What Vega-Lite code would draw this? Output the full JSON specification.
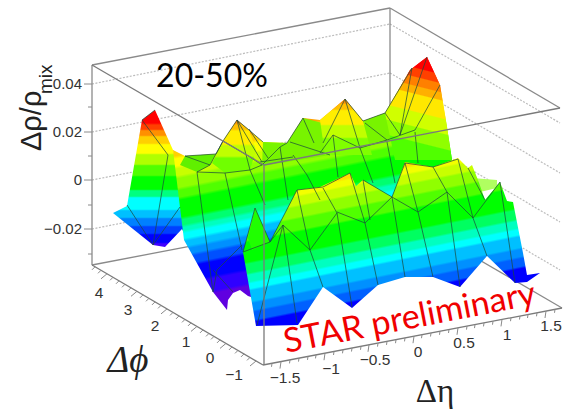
{
"$schema":"https://vega.github.io/schema/vega-lite/v6.json",
"width":569,"height":411,"padding":0,"autosize":"none","background":"white",
"view":{"stroke":null},
"datasets":{
"grid":[
{"x":92,"y":84,"x2":390,"y2":24},{"x":92,"y":132,"x2":390,"y2":73},{"x":92,"y":180,"x2":390,"y2":122},{"x":92,"y":229,"x2":390,"y2":170},
{"x":390,"y":24,"x2":560,"y2":123},{"x":390,"y":73,"x2":560,"y2":173},{"x":390,"y":122,"x2":560,"y2":222},{"x":390,"y":170,"x2":560,"y2":270}],
"boxBack":[
{"x":92,"y":65,"x2":390,"y2":8},{"x":390,"y":8,"x2":560,"y2":108},{"x":390,"y":8,"x2":390,"y2":160},{"x":92,"y":65,"x2":92,"y2":265},
{"x":92,"y":265,"x2":390,"y2":208},{"x":390,"y":208,"x2":562,"y2":308}],
"boxFront":[
{"x":92,"y":265,"x2":263,"y2":365},{"x":263,"y":365,"x2":562,"y2":308},{"x":264,"y":365,"x2":264,"y2":165},{"x":92,"y":65,"x2":264,"y2":165},{"x":264,"y":165,"x2":560,"y2":108}],
"l1":[{"x":113,"y":213},{"x":127,"y":206},{"x":142,"y":120},{"x":155,"y":110},{"x":173,"y":150},{"x":190,"y":200},{"x":185,"y":235},{"x":182,"y":229},{"x":165,"y":247},{"x":153,"y":245}],
"back":[{"x":173,"y":150},{"x":185,"y":156},{"x":216,"y":154},{"x":223,"y":141},{"x":237,"y":120},{"x":249,"y":130},{"x":263,"y":142},{"x":287,"y":143},{"x":303,"y":118},{"x":320,"y":120},{"x":345,"y":99},{"x":363,"y":121},{"x":385,"y":113},{"x":410,"y":70},{"x":427,"y":57},{"x":440,"y":85},{"x":447,"y":127},{"x":452,"y":160},{"x":455,"y":200},{"x":300,"y":260},{"x":260,"y":300},{"x":248,"y":296},{"x":240,"y":290},{"x":233,"y":293},{"x":228,"y":300},{"x":227,"y":310},{"x":213,"y":292},{"x":184,"y":240}],
"top1":[{"x":185,"y":156},{"x":216,"y":154},{"x":223,"y":141},{"x":210,"y":165},{"x":197,"y":172},{"x":180,"y":165}],
"top2":[{"x":263,"y":142},{"x":287,"y":143},{"x":303,"y":118},{"x":330,"y":125},{"x":345,"y":135},{"x":330,"y":155},{"x":262,"y":166}],
"top3":[{"x":363,"y":121},{"x":385,"y":113},{"x":400,"y":135},{"x":387,"y":142},{"x":360,"y":148}],
"peak1":[{"x":223,"y":141},{"x":237,"y":120},{"x":249,"y":130},{"x":256,"y":150},{"x":250,"y":170},{"x":225,"y":173},{"x":212,"y":163}],
"peak3":[{"x":320,"y":120},{"x":345,"y":99},{"x":363,"y":121},{"x":372,"y":155},{"x":345,"y":155},{"x":325,"y":155}],
"peakR":[{"x":385,"y":113},{"x":410,"y":70},{"x":427,"y":57},{"x":440,"y":85},{"x":447,"y":127},{"x":452,"y":160},{"x":395,"y":160}],
"streak":[{"x":472,"y":178},{"x":497,"y":180},{"x":497,"y":188},{"x":480,"y":192}],
"front":[{"x":243,"y":252},{"x":255,"y":208},{"x":270,"y":242},{"x":297,"y":190},{"x":320,"y":187},{"x":350,"y":173},{"x":356,"y":186},{"x":363,"y":180},{"x":392,"y":197},{"x":405,"y":162},{"x":433,"y":167},{"x":458,"y":158},{"x":468,"y":168},{"x":472,"y":165},{"x":478,"y":180},{"x":485,"y":200},{"x":500,"y":182},{"x":507,"y":201},{"x":513,"y":202},{"x":523,"y":253},{"x":527,"y":275},{"x":540,"y":273},{"x":527,"y":282},{"x":515,"y":283},{"x":487,"y":256},{"x":460,"y":287},{"x":433,"y":277},{"x":405,"y":277},{"x":378,"y":285},{"x":352,"y":308},{"x":323,"y":287},{"x":298,"y":325},{"x":256,"y":326}],
"front0":[{"x":248,"y":238},{"x":255,"y":208},{"x":270,"y":242},{"x":252,"y":250}],
"mesh":[
{"x":142,"y":120,"x2":168,"y2":155},{"x":168,"y":155,"x2":153,"y2":245},{"x":127,"y":205,"x2":153,"y2":245},{"x":153,"y":245,"x2":180,"y2":207},{"x":142,"y":120,"x2":155,"y2":110},
{"x":185,"y":156,"x2":216,"y2":154},{"x":216,"y":154,"x2":223,"y2":141},{"x":223,"y":141,"x2":210,"y2":165},{"x":185,"y":156,"x2":210,"y2":165},{"x":210,"y":165,"x2":197,"y2":172},{"x":197,"y":172,"x2":225,"y2":173},{"x":225,"y":173,"x2":250,"y2":170},{"x":250,"y":170,"x2":262,"y2":165},
{"x":223,"y":141,"x2":237,"y2":120},{"x":237,"y":120,"x2":249,"y2":130},{"x":249,"y":130,"x2":263,"y2":142},{"x":237,"y":120,"x2":250,"y2":170},{"x":237,"y":120,"x2":262,"y2":162},{"x":249,"y":129,"x2":268,"y2":158},{"x":223,"y":141,"x2":250,"y2":157},{"x":250,"y":157,"x2":262,"y2":165},
{"x":262,"y":165,"x2":280,"y2":147},{"x":280,"y":147,"x2":287,"y2":143},{"x":280,"y":147,"x2":288,"y2":200},{"x":287,"y":143,"x2":303,"y2":118},{"x":303,"y":118,"x2":314,"y2":143},{"x":290,"y":142,"x2":330,"y2":155},{"x":293,"y":155,"x2":307,"y2":175},{"x":307,"y":175,"x2":320,"y2":200},{"x":260,"y":162,"x2":293,"y2":157},
{"x":197,"y":172,"x2":213,"y2":292},{"x":225,"y":173,"x2":242,"y2":250},{"x":250,"y":170,"x2":265,"y2":205},{"x":242,"y":245,"x2":217,"y2":270},{"x":217,"y":270,"x2":213,"y2":292},{"x":213,"y":270,"x2":233,"y2":292},
{"x":255,"y":208,"x2":270,"y2":242},{"x":243,"y":252,"x2":255,"y2":208},{"x":243,"y":252,"x2":270,"y2":242},{"x":270,"y":242,"x2":283,"y2":225},{"x":283,"y":225,"x2":310,"y2":250},{"x":283,"y":225,"x2":257,"y2":325},{"x":283,"y":225,"x2":297,"y2":323},{"x":310,"y":250,"x2":323,"y2":287},{"x":297,"y":190,"x2":310,"y2":250},{"x":297,"y":190,"x2":270,"y2":242},{"x":310,"y":250,"x2":337,"y2":213},
{"x":323,"y":188,"x2":337,"y2":213},{"x":337,"y":212,"x2":365,"y2":223},{"x":337,"y":213,"x2":352,"y2":307},{"x":350,"y":173,"x2":365,"y2":223},{"x":365,"y":223,"x2":378,"y2":285},{"x":365,"y":223,"x2":392,"y2":197},{"x":363,"y":180,"x2":392,"y2":197},{"x":363,"y":180,"x2":370,"y2":220},{"x":392,"y":197,"x2":405,"y2":277},{"x":392,"y":197,"x2":418,"y2":212},{"x":405,"y":163,"x2":418,"y2":212},{"x":418,"y":212,"x2":433,"y2":277},{"x":418,"y":212,"x2":447,"y2":192},{"x":433,"y":167,"x2":447,"y2":192},{"x":447,"y":192,"x2":460,"y2":287},{"x":447,"y":192,"x2":473,"y2":218},{"x":458,"y":159,"x2":473,"y2":218},{"x":473,"y":218,"x2":487,"y2":256},{"x":473,"y":218,"x2":500,"y2":182},{"x":500,"y":182,"x2":515,"y2":283},{"x":468,"y":168,"x2":485,"y2":200},{"x":405,"y":163,"x2":433,"y2":167},{"x":433,"y":167,"x2":458,"y2":159},{"x":392,"y":197,"x2":405,"y2":163},{"x":297,"y":190,"x2":323,"y2":187},{"x":323,"y":187,"x2":350,"y2":173},
{"x":345,"y":99,"x2":360,"y2":148},{"x":360,"y":148,"x2":373,"y2":183},{"x":360,"y":148,"x2":333,"y2":135},{"x":333,"y":135,"x2":320,"y2":153},{"x":333,"y":135,"x2":338,"y2":177},{"x":345,"y":99,"x2":323,"y2":143},{"x":360,"y":148,"x2":387,"y2":140},{"x":387,"y":140,"x2":415,"y2":130},{"x":365,"y":123,"x2":387,"y2":140},{"x":385,"y":113,"x2":400,"y2":135},{"x":412,"y":68,"x2":400,"y2":135},{"x":427,"y":57,"x2":400,"y2":135},{"x":440,"y":85,"x2":415,"y2":130},{"x":387,"y":142,"x2":395,"y2":183},{"x":415,"y":132,"x2":418,"y2":163},{"x":345,"y":99,"x2":363,"y2":121},{"x":363,"y":121,"x2":385,"y2":113},{"x":385,"y":113,"x2":412,"y2":68}],
"ticks":[
{"x":92,"y":84,"x2":84,"y2":84},{"x":92,"y":107,"x2":88,"y2":107},{"x":92,"y":132,"x2":84,"y2":132},{"x":92,"y":156,"x2":88,"y2":156},{"x":92,"y":180,"x2":84,"y2":180},{"x":92,"y":205,"x2":88,"y2":205},{"x":92,"y":229,"x2":84,"y2":229},{"x":92,"y":254,"x2":88,"y2":254},
{"x":272,"y":363.3,"x2":271.5,"y2":366.8},{"x":281,"y":361.6,"x2":280,"y2":368.6},{"x":290,"y":359.9,"x2":289.5,"y2":363.4},{"x":299,"y":358.1,"x2":298.5,"y2":361.6},{"x":308,"y":356.4,"x2":307.5,"y2":359.9},{"x":316,"y":354.9,"x2":315.5,"y2":358.4},{"x":325,"y":353.2,"x2":324,"y2":360.2},{"x":334,"y":351.5,"x2":333.5,"y2":355},{"x":343,"y":349.8,"x2":342.5,"y2":353.3},{"x":352,"y":348,"x2":351.5,"y2":351.5},{"x":361,"y":346.3,"x2":360.5,"y2":349.8},{"x":369,"y":344.8,"x2":368,"y2":351.8},{"x":378,"y":343.1,"x2":377.5,"y2":346.6},{"x":387,"y":341.4,"x2":386.5,"y2":344.9},{"x":396,"y":339.7,"x2":395.5,"y2":343.2},{"x":405,"y":337.9,"x2":404.5,"y2":341.4},{"x":414,"y":336.2,"x2":413,"y2":343.2},{"x":422,"y":334.7,"x2":421.5,"y2":338.2},{"x":431,"y":333,"x2":430.5,"y2":336.5},{"x":440,"y":331.3,"x2":439.5,"y2":334.8},{"x":449,"y":329.5,"x2":448.5,"y2":333},{"x":458,"y":327.8,"x2":457,"y2":334.8},{"x":467,"y":326.1,"x2":466.5,"y2":329.6},{"x":475,"y":324.6,"x2":474.5,"y2":328.1},{"x":484,"y":322.9,"x2":483.5,"y2":326.4},{"x":493,"y":321.2,"x2":492.5,"y2":324.7},{"x":502,"y":319.4,"x2":501,"y2":326.4},{"x":511,"y":317.7,"x2":510.5,"y2":321.2},{"x":520,"y":316,"x2":519.5,"y2":319.5},{"x":528,"y":314.5,"x2":527.5,"y2":318},{"x":537,"y":312.8,"x2":536.5,"y2":316.3},{"x":546,"y":311,"x2":545,"y2":318},{"x":555,"y":309.3,"x2":554.5,"y2":312.8},
{"x":256,"y":361,"x2":250,"y2":366},{"x":250,"y":357.4,"x2":247,"y2":360.4},{"x":244,"y":353.9,"x2":241,"y2":356.9},{"x":238,"y":350.4,"x2":235,"y2":353.4},{"x":232,"y":346.9,"x2":229,"y2":349.9},{"x":226,"y":343.4,"x2":220,"y2":348.4},{"x":220,"y":339.9,"x2":217,"y2":342.9},{"x":214,"y":336.4,"x2":211,"y2":339.4},{"x":209,"y":333.4,"x2":206,"y2":336.4},{"x":203,"y":329.9,"x2":200,"y2":332.9},{"x":197,"y":326.4,"x2":191,"y2":331.4},{"x":191,"y":322.9,"x2":188,"y2":325.9},{"x":185,"y":319.4,"x2":182,"y2":322.4},{"x":179,"y":315.9,"x2":176,"y2":318.9},{"x":173,"y":312.4,"x2":170,"y2":315.4},{"x":167,"y":308.9,"x2":161,"y2":313.9},{"x":161,"y":305.4,"x2":158,"y2":308.4},{"x":155,"y":301.9,"x2":152,"y2":304.9},{"x":149,"y":298.3,"x2":146,"y2":301.3},{"x":143,"y":294.8,"x2":140,"y2":297.8},{"x":137,"y":291.3,"x2":131,"y2":296.3},{"x":131,"y":287.8,"x2":128,"y2":290.8},{"x":125,"y":284.3,"x2":122,"y2":287.3},{"x":119,"y":280.8,"x2":116,"y2":283.8},{"x":113,"y":277.3,"x2":110,"y2":280.3},{"x":107,"y":273.8,"x2":101,"y2":278.8},{"x":101,"y":270.3,"x2":98,"y2":273.3},{"x":95,"y":266.8,"x2":92,"y2":269.8}],
"zLabels":[{"x":82,"y":84,"t":"0.04"},{"x":82,"y":132,"t":"0.02"},{"x":82,"y":180,"t":"0"},{"x":82,"y":229,"t":"−0.02"}],
"axisLabels":[{"x":99,"y":293,"t":"4"},{"x":128,"y":310,"t":"3"},{"x":155,"y":326,"t":"2"},{"x":186,"y":342,"t":"1"},{"x":210,"y":358,"t":"0"},{"x":234,"y":375,"t":"−1"},{"x":285,"y":378,"t":"−1.5"},{"x":331,"y":369,"t":"−1"},{"x":375,"y":360,"t":"−0.5"},{"x":418,"y":352,"t":"0"},{"x":464,"y":343,"t":"0.5"},{"x":507,"y":335,"t":"1"},{"x":551,"y":326,"t":"1.5"}],
"title":[{"x":212,"y":87,"t":"20-50%"}],
"star":[{"x":286,"y":353,"t":"STAR preliminary"}],
"zT":[{"x":41,"y":151,"t":"Δρ/ρ"}],
"zS":[{"x":52,"y":94,"t":"mix"}],
"phiT":[{"x":128,"y":372,"t":"Δϕ"}],
"etaT":[{"x":435,"y":402,"t":"Δη"}]
},
"encoding":{
"x":{"field":"x","type":"quantitative","scale":{"domain":[0,569],"nice":false,"zero":false},"axis":null},
"y":{"field":"y","type":"quantitative","scale":{"domain":[411,0],"nice":false,"zero":false},"axis":null}
},
"layer":[
{"data":{"name":"grid"},"mark":{"type":"rule","stroke":"#bcbcbc","strokeWidth":1.2,"strokeDash":[2,1.5]},"encoding":{"x2":{"field":"x2"},"y2":{"field":"y2"}}},
{"data":{"name":"boxBack"},"mark":{"type":"rule","stroke":"#8a8a8a","strokeWidth":1.3},"encoding":{"x2":{"field":"x2"},"y2":{"field":"y2"}}},
{"data":{"name":"l1"},"mark":{"type":"line","order":false,"strokeWidth":0,"fill":{"gradient":"linear","x1":0,"y1":0,"x2":0,"y2":1,"stops":[
{"offset":0,"color":"#ff0000"},{"offset":0.095,"color":"#ff0000"},{"offset":0.11,"color":"#ff4000"},{"offset":0.14,"color":"#ff4000"},{"offset":0.152,"color":"#ff9000"},{"offset":0.184,"color":"#ff9000"},{"offset":0.196,"color":"#ffd000"},{"offset":0.242,"color":"#ffd000"},{"offset":0.254,"color":"#ffff00"},{"offset":0.315,"color":"#ffff00"},{"offset":0.327,"color":"#b0ff00"},{"offset":0.395,"color":"#b0ff00"},{"offset":0.407,"color":"#50ff00"},{"offset":0.476,"color":"#50ff00"},{"offset":0.488,"color":"#00ff00"},{"offset":0.578,"color":"#00ff00"},{"offset":0.59,"color":"#00ff80"},{"offset":0.629,"color":"#00ff80"},{"offset":0.641,"color":"#00ffff"},{"offset":0.724,"color":"#00ffff"},{"offset":0.736,"color":"#00c0ff"},{"offset":0.782,"color":"#00c0ff"},{"offset":0.794,"color":"#0080ff"},{"offset":0.841,"color":"#0080ff"},{"offset":0.853,"color":"#0040ff"},{"offset":0.899,"color":"#0040ff"},{"offset":0.911,"color":"#0000ff"},{"offset":0.965,"color":"#0000ff"},{"offset":0.977,"color":"#4000ff"},{"offset":1,"color":"#4000ff"}]}}},
{"data":{"name":"back"},"mark":{"type":"line","order":false,"strokeWidth":0,"fill":{"gradient":"linear","x1":0,"y1":0,"x2":0.2598,"y2":1.165,"stops":[
{"offset":0,"color":"#ff0000"},{"offset":0.205,"color":"#ff0000"},{"offset":0.215,"color":"#ff3000"},{"offset":0.237,"color":"#ff3000"},{"offset":0.247,"color":"#ff7000"},{"offset":0.27,"color":"#ff7000"},{"offset":0.28,"color":"#ffa000"},{"offset":0.296,"color":"#ffa000"},{"offset":0.306,"color":"#ffd000"},{"offset":0.321,"color":"#ffd000"},{"offset":0.331,"color":"#ffff00"},{"offset":0.354,"color":"#ffff00"},{"offset":0.364,"color":"#c8ff00"},{"offset":0.386,"color":"#c8ff00"},{"offset":0.396,"color":"#90ff00"},{"offset":0.425,"color":"#90ff00"},{"offset":0.435,"color":"#50ff00"},{"offset":0.457,"color":"#50ff00"},{"offset":0.467,"color":"#00ff00"},{"offset":0.522,"color":"#00ff00"},{"offset":0.532,"color":"#00ff70"},{"offset":0.548,"color":"#00ff70"},{"offset":0.558,"color":"#00ffc0"},{"offset":0.567,"color":"#00ffc0"},{"offset":0.577,"color":"#00ffff"},{"offset":0.593,"color":"#00ffff"},{"offset":0.603,"color":"#00c0ff"},{"offset":0.619,"color":"#00c0ff"},{"offset":0.629,"color":"#0090ff"},{"offset":0.645,"color":"#0090ff"},{"offset":0.655,"color":"#0050ff"},{"offset":0.677,"color":"#0050ff"},{"offset":0.687,"color":"#0000ff"},{"offset":0.732,"color":"#0000ff"},{"offset":0.742,"color":"#3000ff"},{"offset":0.78,"color":"#3000ff"},{"offset":0.79,"color":"#6000e0"},{"offset":1,"color":"#6000e0"}]}}},
{"data":{"name":"top1"},"mark":{"type":"line","order":false,"strokeWidth":0,"fill":"#60f000"}},
{"data":{"name":"top2"},"mark":{"type":"line","order":false,"strokeWidth":0,"fill":"#78f400"}},
{"data":{"name":"top3"},"mark":{"type":"line","order":false,"strokeWidth":0,"fill":"#78f400"}},
{"data":{"name":"peak1"},"mark":{"type":"line","order":false,"strokeWidth":0,"fill":{"gradient":"linear","x1":0,"y1":0,"x2":0,"y2":1,"stops":[
{"offset":0,"color":"#ff9000"},{"offset":0.06,"color":"#ff9000"},{"offset":0.09,"color":"#ffc000"},{"offset":0.17,"color":"#ffc000"},{"offset":0.21,"color":"#ffee00"},{"offset":0.45,"color":"#ffee00"},{"offset":0.49,"color":"#c0ff00"},{"offset":0.68,"color":"#c0ff00"},{"offset":0.72,"color":"#70ff00"},{"offset":1,"color":"#70ff00"}]}}},
{"data":{"name":"peak3"},"mark":{"type":"line","order":false,"strokeWidth":0,"fill":{"gradient":"linear","x1":0,"y1":0,"x2":0,"y2":1,"stops":[
{"offset":0,"color":"#ff9000"},{"offset":0.07,"color":"#ff9000"},{"offset":0.1,"color":"#ffc000"},{"offset":0.18,"color":"#ffc000"},{"offset":0.21,"color":"#ffee00"},{"offset":0.45,"color":"#ffee00"},{"offset":0.48,"color":"#c0ff00"},{"offset":0.68,"color":"#c0ff00"},{"offset":0.71,"color":"#80ff00"},{"offset":1,"color":"#80ff00"}]}}},
{"data":{"name":"peakR"},"mark":{"type":"line","order":false,"strokeWidth":0,"fill":{"gradient":"linear","x1":1,"y1":0,"x2":0.8156,"y2":1.1328,"stops":[
{"offset":0,"color":"#ff0000"},{"offset":0.162,"color":"#ff0000"},{"offset":0.172,"color":"#ff4000"},{"offset":0.237,"color":"#ff4000"},{"offset":0.247,"color":"#ff8000"},{"offset":0.312,"color":"#ff8000"},{"offset":0.322,"color":"#ffb000"},{"offset":0.379,"color":"#ffb000"},{"offset":0.389,"color":"#ffe800"},{"offset":0.529,"color":"#ffe800"},{"offset":0.539,"color":"#d0ff00"},{"offset":0.654,"color":"#d0ff00"},{"offset":0.664,"color":"#90ff00"},{"offset":0.78,"color":"#90ff00"},{"offset":0.79,"color":"#50ff00"},{"offset":1,"color":"#50ff00"}]}}},
{"data":{"name":"streak"},"mark":{"type":"line","order":false,"strokeWidth":0,"fill":"#b0ff60"}},
{"data":{"name":"front"},"mark":{"type":"line","order":false,"strokeWidth":0,"fill":{"gradient":"linear","x1":0,"y1":0,"x2":0.4254,"y2":1.2032,"stops":[
{"offset":0,"color":"#ffc000"},{"offset":0.153,"color":"#ffc000"},{"offset":0.163,"color":"#ffe000"},{"offset":0.18,"color":"#ffe000"},{"offset":0.19,"color":"#f4ff00"},{"offset":0.21,"color":"#f4ff00"},{"offset":0.22,"color":"#c8ff00"},{"offset":0.254,"color":"#c8ff00"},{"offset":0.264,"color":"#90ff00"},{"offset":0.307,"color":"#90ff00"},{"offset":0.317,"color":"#50ff00"},{"offset":0.364,"color":"#50ff00"},{"offset":0.374,"color":"#00ff00"},{"offset":0.461,"color":"#00ff00"},{"offset":0.471,"color":"#00ff60"},{"offset":0.51,"color":"#00ff60"},{"offset":0.52,"color":"#00ffc0"},{"offset":0.549,"color":"#00ffc0"},{"offset":0.559,"color":"#00ffff"},{"offset":0.58,"color":"#00ffff"},{"offset":0.59,"color":"#00c0ff"},{"offset":0.637,"color":"#00c0ff"},{"offset":0.647,"color":"#0090ff"},{"offset":0.677,"color":"#0090ff"},{"offset":0.687,"color":"#0060ff"},{"offset":0.721,"color":"#0060ff"},{"offset":0.731,"color":"#0000ff"},{"offset":1,"color":"#0000ff"}]}}},
{"data":{"name":"front0"},"mark":{"type":"line","order":false,"strokeWidth":0,"fill":"#20ff00"}},
{"data":{"name":"mesh"},"mark":{"type":"rule","stroke":"#1c4a3c","strokeWidth":0.9,"opacity":0.8},"encoding":{"x2":{"field":"x2"},"y2":{"field":"y2"}}},
{"data":{"name":"boxFront"},"mark":{"type":"rule","stroke":"#7a7a7a","strokeWidth":1.3},"encoding":{"x2":{"field":"x2"},"y2":{"field":"y2"}}},
{"data":{"name":"ticks"},"mark":{"type":"rule","stroke":"#8a8a8a","strokeWidth":1},"encoding":{"x2":{"field":"x2"},"y2":{"field":"y2"}}},
{"data":{"name":"zLabels"},"mark":{"type":"text","font":"Liberation Sans","fontSize":15,"fill":"#333","align":"right","baseline":"middle"},"encoding":{"text":{"field":"t"}}},
{"data":{"name":"axisLabels"},"mark":{"type":"text","font":"Liberation Sans","fontSize":15.5,"fill":"#333","align":"center","baseline":"middle"},"encoding":{"text":{"field":"t"}}},
{"data":{"name":"title"},"mark":{"type":"text","font":"Lato","fontSize":32,"fill":"#000","align":"center","baseline":"alphabetic"},"encoding":{"text":{"field":"t"}}},
{"data":{"name":"star"},"mark":{"type":"text","font":"Lato","fontSize":34,"fill":"#f00000","align":"left","baseline":"alphabetic","angle":349},"encoding":{"text":{"field":"t"}}},
{"data":{"name":"zT"},"mark":{"type":"text","font":"Liberation Sans","fontSize":29,"fill":"#222","align":"left","baseline":"alphabetic","angle":270},"encoding":{"text":{"field":"t"}}},
{"data":{"name":"zS"},"mark":{"type":"text","font":"Liberation Sans","fontSize":19,"fill":"#222","align":"left","baseline":"alphabetic","angle":270},"encoding":{"text":{"field":"t"}}},
{"data":{"name":"phiT"},"mark":{"type":"text","font":"Liberation Serif","fontSize":37,"fontStyle":"italic","fill":"#222","align":"center","baseline":"alphabetic"},"encoding":{"text":{"field":"t"}}},
{"data":{"name":"etaT"},"mark":{"type":"text","font":"Liberation Serif","fontSize":33,"fill":"#222","align":"center","baseline":"alphabetic"},"encoding":{"text":{"field":"t"}}}
]
}
